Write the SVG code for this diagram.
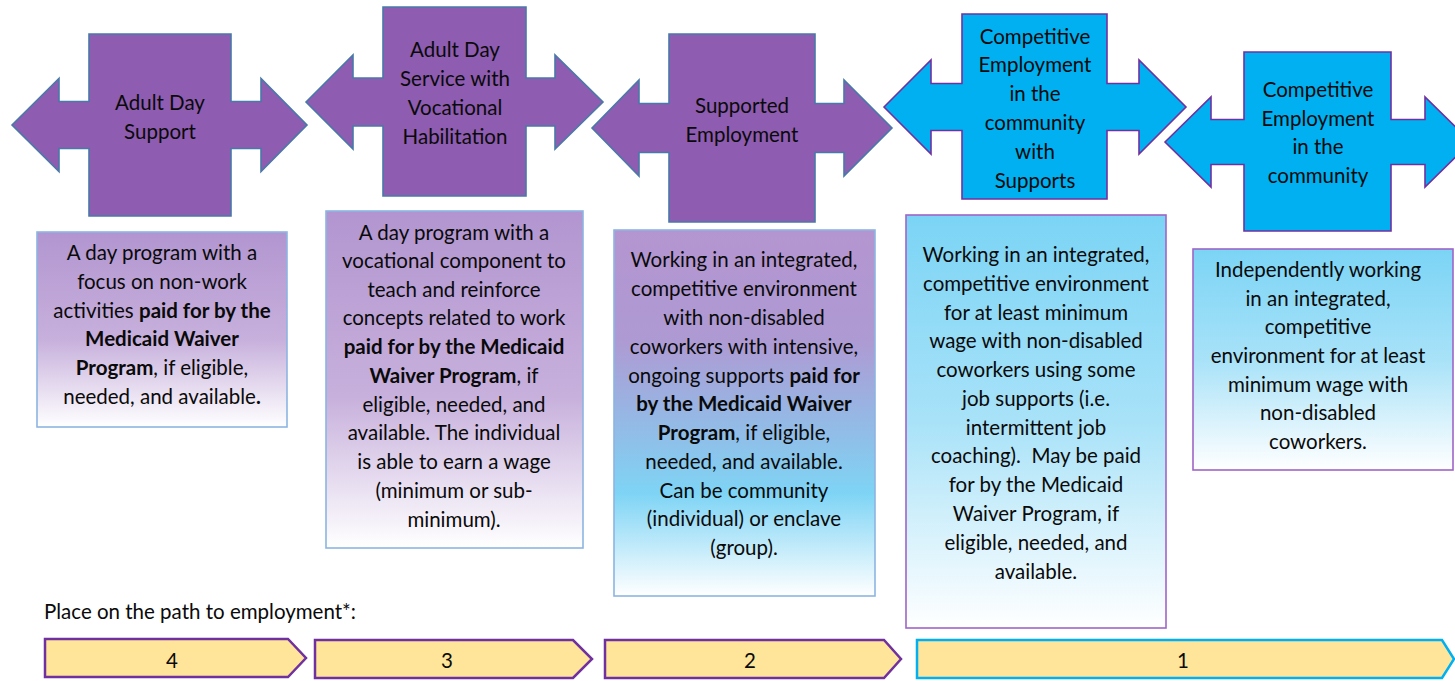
<svg xmlns="http://www.w3.org/2000/svg" width="1455" height="681" viewBox="0 0 1455 681">
<defs>
<linearGradient id="gPurple" x1="0" y1="0" x2="0" y2="1">
<stop offset="0" stop-color="#B295D0"/>
<stop offset="0.55" stop-color="#C7B0DC"/>
<stop offset="1" stop-color="#FFFFFF"/>
</linearGradient>
<linearGradient id="gMix" x1="0" y1="0" x2="0" y2="1">
<stop offset="0" stop-color="#B495D0"/>
<stop offset="0.3" stop-color="#AE9AD3"/>
<stop offset="0.72" stop-color="#7ED4F5"/>
<stop offset="1" stop-color="#FFFFFF"/>
</linearGradient>
<linearGradient id="gCyan" x1="0" y1="0" x2="0" y2="1">
<stop offset="0" stop-color="#7BD4F5"/>
<stop offset="0.5" stop-color="#A8E2F8"/>
<stop offset="1" stop-color="#FFFFFF"/>
</linearGradient>
</defs>
<style>
.pshape{fill:#8E5CB0;stroke:#4A78A8;stroke-width:1.6}
.cshape{fill:#00B0F0;stroke:#7030A0;stroke-width:1.6}
.boxb{stroke:#8DB4E2;stroke-width:1.6}
.boxp{stroke:#A064C8;stroke-width:1.6}
.chev{fill:#FFE599;stroke-width:2.5}
text{font-family:Lato,"Liberation Sans",sans-serif;font-size:20.5px;fill:#0A0A0A;text-anchor:middle}
.b{font-weight:bold}
.lbl{text-anchor:start}
</style>

<g id="connectors"></g>

<g id="n1">
<path class="pshape" d="M12,125 L59,78.5 L59,101.5 L89,101.5 L89,34 L231,34 L231,101.5 L261,101.5 L261,78.5 L307,125 L261,171.5 L261,148.5 L231,148.5 L231,216 L89,216 L89,148.5 L59,148.5 L59,171.5 Z"/>
<text x="160" y="110">Adult Day</text>
<text x="160" y="139">Support</text>
</g>

<g id="n2">
<path class="pshape" d="M306,102 L353,55 L353,78 L383,78 L383,7 L526,7 L526,78 L555,78 L555,55 L603,102 L555,149 L555,126 L526,126 L526,196 L383,196 L383,126 L353,126 L353,149 Z"/>
<text x="455" y="57">Adult Day</text>
<text x="455" y="86">Service with</text>
<text x="455" y="115">Vocational</text>
<text x="455" y="144">Habilitation</text>
</g>

<g id="n3">
<path class="pshape" d="M592,128 L639,80 L639,103.5 L669,103.5 L669,34 L815,34 L815,103.5 L844,103.5 L844,80 L892,128 L844,176 L844,152.5 L815,152.5 L815,222 L669,222 L669,152.5 L639,152.5 L639,176 Z"/>
<text x="742" y="113">Supported</text>
<text x="742" y="142">Employment</text>
</g>

<g id="n4">
<path class="cshape" d="M884,107 L931,60 L931,83.5 L962,83.5 L962,14 L1107,14 L1107,83.5 L1139,83.5 L1139,60 L1186,107 L1139,154 L1139,130.5 L1107,130.5 L1107,199 L962,199 L962,130.5 L931,130.5 L931,154 Z"/>
<text x="1035" y="44">Competitive</text>
<text x="1035" y="72">Employment</text>
<text x="1035" y="101">in the</text>
<text x="1035" y="130">community</text>
<text x="1035" y="159">with</text>
<text x="1035" y="188">Supports</text>
</g>

<g id="n5">
<path class="cshape" d="M1165,142 L1211,97 L1211,119.5 L1244,119.5 L1244,52 L1391,52 L1391,119.5 L1425,119.5 L1425,97 L1471,142 L1425,187 L1425,164.5 L1391,164.5 L1391,231 L1244,231 L1244,164.5 L1211,164.5 L1211,187 Z"/>
<text x="1318" y="97">Competitive</text>
<text x="1318" y="126">Employment</text>
<text x="1318" y="154">in the</text>
<text x="1318" y="183">community</text>
</g>

<g id="d1">
<rect class="boxb" x="37" y="232" width="250" height="195" fill="url(#gPurple)"/>
<text x="162" y="260">A day program with a</text>
<text x="162" y="289">focus on non-work</text>
<text x="162" y="318">activities <tspan class="b">paid for by the</tspan></text>
<text x="162" y="346" class="b">Medicaid Waiver</text>
<text x="162" y="375"><tspan class="b">Program</tspan>, if eligible,</text>
<text x="162" y="404">needed, and available<tspan class="b">.</tspan></text>
</g>

<g id="d2">
<rect class="boxb" x="326" y="211" width="257" height="337" fill="url(#gPurple)"/>
<text x="454" y="240">A day program with a</text>
<text x="454" y="268">vocational component to</text>
<text x="454" y="297">teach and reinforce</text>
<text x="454" y="325">concepts related to work</text>
<text x="454" y="354" class="b">paid for by the Medicaid</text>
<text x="454" y="383"><tspan class="b">Waiver Program</tspan>, if</text>
<text x="454" y="412">eligible, needed, and</text>
<text x="454" y="440">available. The individual</text>
<text x="454" y="469">is able to earn a wage</text>
<text x="454" y="498">(minimum or sub-</text>
<text x="454" y="527">minimum).</text>
</g>

<g id="d3">
<rect class="boxb" x="614" y="230" width="261" height="366" fill="url(#gMix)"/>
<text x="744" y="267">Working in an integrated,</text>
<text x="744" y="296">competitive environment</text>
<text x="744" y="325">with non-disabled</text>
<text x="744" y="354">coworkers with intensive,</text>
<text x="744" y="383">ongoing supports <tspan class="b">paid for</tspan></text>
<text x="744" y="411" class="b">by the Medicaid Waiver</text>
<text x="744" y="440"><tspan class="b">Program</tspan>, if eligible,</text>
<text x="744" y="469">needed, and available.</text>
<text x="744" y="498">Can be community</text>
<text x="744" y="526">(individual) or enclave</text>
<text x="744" y="555">(group).</text>
</g>

<g id="d4">
<rect class="boxp" x="906" y="215" width="260" height="413" fill="url(#gCyan)"/>
<text x="1036" y="262">Working in an integrated,</text>
<text x="1036" y="291">competitive environment</text>
<text x="1036" y="320">for at least minimum</text>
<text x="1036" y="348">wage with non-disabled</text>
<text x="1036" y="377">coworkers using some</text>
<text x="1036" y="406">job supports (i.e.</text>
<text x="1036" y="435">intermittent job</text>
<text x="1036" y="463">coaching).&#160; May be paid</text>
<text x="1036" y="492">for by the Medicaid</text>
<text x="1036" y="521">Waiver Program, if</text>
<text x="1036" y="550">eligible, needed, and</text>
<text x="1036" y="579">available.</text>
</g>

<g id="d5">
<rect class="boxp" x="1193" y="249" width="260" height="221" fill="url(#gCyan)"/>
<text x="1318" y="277">Independently working</text>
<text x="1318" y="306">in an integrated,</text>
<text x="1318" y="334">competitive</text>
<text x="1318" y="363">environment for at least</text>
<text x="1318" y="392">minimum wage with</text>
<text x="1318" y="420">non-disabled</text>
<text x="1318" y="449">coworkers.</text>
</g>

<g id="label">
<text class="lbl" x="44" y="619">Place on the path to employment*:</text>
</g>

<g id="c4">
<path class="chev" stroke="#7030A0" d="M45,639 L288,639 L306,658 L288,677 L45,677 Z"/>
<text x="172" y="668">4</text>
</g>
<g id="c3">
<path class="chev" stroke="#7030A0" d="M315,640 L573,640 L592,659 L573,678 L315,678 Z"/>
<text x="447" y="668">3</text>
</g>
<g id="c2">
<path class="chev" stroke="#7030A0" d="M605,640 L884,640 L901,659 L884,678 L605,678 Z"/>
<text x="750" y="668">2</text>
</g>
<g id="c1">
<path class="chev" stroke="#00B0F0" d="M917,640 L1442,640 L1454,659 L1442,678 L917,678 Z"/>
<text x="1183" y="668">1</text>
</g>
</svg>
